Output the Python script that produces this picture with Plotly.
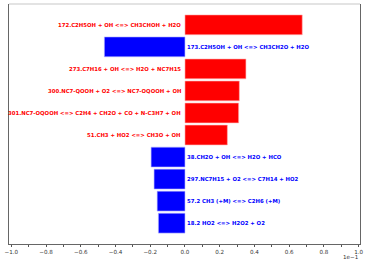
import plotly.graph_objects as go

reactions = [
    "172.C2H5OH + OH <=> CH3CHOH + H2O",
    "173.C2H5OH + OH <=> CH3CH2O + H2O",
    "273.C7H16 + OH <=> H2O + NC7H15",
    "300.NC7-QOOH + O2 <=> NC7-OQOOH + OH",
    "301.NC7-OQOOH <=> C2H4 + CH2O + CO + N-C3H7 + OH",
    "51.CH3 + HO2 <=> CH3O + OH",
    "38.CH2O + OH <=> H2O + HCO",
    "297.NC7H15 + O2 <=> C7H14 + HO2",
    "57.2 CH3 (+M) <=> C2H6 (+M)",
    "18.2 HO2 <=> H2O2 + O2",
]
sensitivity = [0.0675, -0.0464, 0.0351, 0.0313, 0.0309, 0.0244,
               -0.0195, -0.0178, -0.0160, -0.0153]
scale = 1e-1
tick_vals = [-1.0, -0.8, -0.6, -0.4, -0.2, 0.0, 0.2, 0.4, 0.6, 0.8, 1.0]
tick_text = ["\u22121.0", "\u22120.8", "\u22120.6", "\u22120.4", "\u22120.2",
             "0.0", "0.2", "0.4", "0.6", "0.8", "1.0"]

xs = [v / scale for v in sensitivity]
ys = list(range(len(reactions)))
colors = ["#ff0000" if v > 0 else "#0000ff" for v in xs]
edge = ["#ffb3b3" if v > 0 else "#b3b3ff" for v in xs]

fig = go.Figure()
fig.add_trace(go.Bar(
    x=xs, y=ys, orientation="h", width=0.9,
    marker=dict(color=colors, line=dict(color=edge, width=0.6)),
    hoverinfo="skip",
))

for name, v, y in zip(reactions, xs, ys):
    if v > 0:
        fig.add_annotation(x=0, y=y, text=name, showarrow=False,
                           xanchor="right", yanchor="middle", xshift=-1.5,
                           font=dict(family="DejaVu Sans", size=5.35, color="#ff0000",
                                     weight="bold"))
    else:
        fig.add_annotation(x=0, y=y, text=name, showarrow=False,
                           xanchor="left", yanchor="middle", xshift=0.5,
                           font=dict(family="DejaVu Sans", size=5.35, color="#0000ff",
                                     weight="bold"))

fig.add_annotation(xref="paper", yref="paper", x=1.004, y=-0.054,
                   text="1e\u22121", showarrow=False, xanchor="right", yanchor="middle",
                   font=dict(family="DejaVu Sans", size=5.6, color="#333333"))

# top spine (light)
fig.add_shape(type="line", xref="paper", yref="paper", x0=0, x1=1, y0=1, y1=1,
              line=dict(color="#c8c8c8", width=1.2))

fig.update_layout(
    width=368, height=264,
    margin=dict(l=8, r=7, t=4, b=20),
    paper_bgcolor="white", plot_bgcolor="white",
    showlegend=False,
    font=dict(family="DejaVu Sans", size=5.6, color="#333333"),
    xaxis=dict(range=[-1.013, 1.0075], tickvals=tick_vals, ticktext=tick_text,
               showgrid=False, zeroline=False, showline=True, linecolor="#666666",
               linewidth=1, ticks="outside", ticklen=2, tickwidth=0.8,
               tickcolor="#555555",
               minor=dict(dtick=0.1, tick0=0, ticks="outside", ticklen=2,
                          tickwidth=0.8, tickcolor="#555555"),
               tickfont=dict(size=5.6, color="#333333")),
    yaxis=dict(range=[9.945, -0.945], showticklabels=False, ticks="",
               showgrid=False, zeroline=False, showline=True, mirror=True,
               linecolor="#666666", linewidth=1),
)

fig.write_html("out.html", config={"displayModeBar": False},
               post_script="document.body.style.margin='0';document.body.style.padding='0';")
